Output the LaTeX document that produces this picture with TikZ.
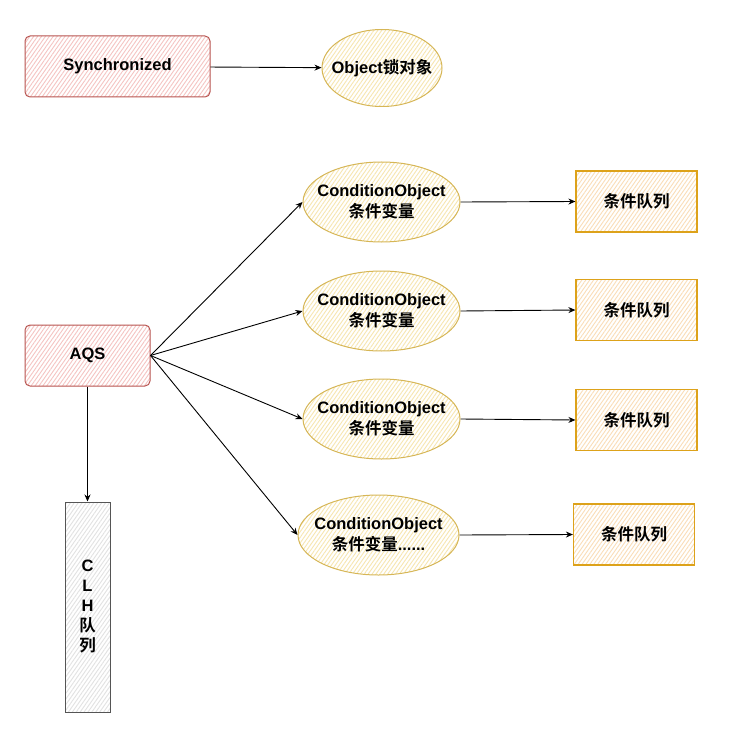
\documentclass[tikz,border=0pt]{standalone}
\usepackage{fontspec}
\setmainfont{Liberation Sans}
\newfontfamily\cjk{Noto Sans CJK SC}[BoldFont={Noto Sans CJK SC Bold}]
\usetikzlibrary{arrows.meta,shapes.geometric,patterns.meta}
\definecolor{redfill}{HTML}{F5C4C2}
\definecolor{redline}{HTML}{B85450}
\definecolor{yelfill}{HTML}{F7E6B0}
\definecolor{yelline}{HTML}{D6B656}
\definecolor{orfill}{HTML}{FADDB8}
\definecolor{orline}{HTML}{DDA21A}
\definecolor{grfill}{HTML}{E2E2E2}
\definecolor{grline}{HTML}{555555}
\newcommand{\zh}[1]{{\cjk\bfseries #1}}
\tikzset{
  hatch/.style={preaction={fill=white},pattern={Lines[angle=55,distance=3.2pt,line width=0.9pt]},pattern color=#1},
  txt/.style={font=\bfseries\fontsize{16.5}{21}\selectfont},
  redbox/.style={txt,draw=redline,line width=1pt,rounded corners=5pt,hatch=redfill,minimum width=185pt,minimum height=61pt},
  yelell/.style={txt,ellipse,draw=yelline,line width=1pt,hatch=yelfill,inner xsep=-12pt,inner ysep=0pt,align=center},
  qbox/.style={txt,draw=orline,line width=1.2pt,hatch=orfill,minimum width=121pt,minimum height=61pt},
  clhbox/.style={draw=grline,line width=1pt,hatch=grfill,minimum width=45pt,minimum height=210pt,align=center,font=\bfseries\fontsize{16.5}{20}\selectfont},
  arr/.style={-{Stealth[length=7pt,width=6pt]},line width=0.9pt,black}
}
\begin{document}
\begin{tikzpicture}[x=1pt,y=-1pt]
\useasboundingbox (0,0) rectangle (731,754);
\node[redbox] (sync) at (117.5,66.5) {Synchronized};
\node[yelell,minimum width=120pt,minimum height=77pt] (obj) at (382,68) {Object\zh{锁对象}};
\draw[arr] (sync) -- (obj);

\node[redbox,minimum width=125pt] (aqs) at (87.5,355.5) {AQS};
\node[clhbox] (clh) at (87.5,607) {C\\L\\H\\\zh{队}\\\zh{列}};
\draw[arr] (aqs.south) -- (clh.north);

\node[yelell,minimum width=157pt,minimum height=80pt] (c1) at (381.5,202) {ConditionObject\\\zh{条件变量}};
\node[yelell,minimum width=157pt,minimum height=80pt] (c2) at (381.5,311) {ConditionObject\\\zh{条件变量}};
\node[yelell,minimum width=157pt,minimum height=80pt] (c3) at (381.5,419) {ConditionObject\\\zh{条件变量}};
\node[yelell,minimum width=161pt,minimum height=80pt] (c4) at (378.5,535) {ConditionObject\\\zh{条件变量}......};

\node[qbox] (q1) at (636.5,201.5) {\zh{条件队列}};
\node[qbox] (q2) at (636.5,310) {\zh{条件队列}};
\node[qbox] (q3) at (636.5,420) {\zh{条件队列}};
\node[qbox] (q4) at (634,534.5) {\zh{条件队列}};

\foreach \i in {1,2,3,4}{
  \draw[arr] (aqs.east) -- (c\i.west);
  \draw[arr] (c\i.east) -- (q\i.west);
}
\end{tikzpicture}
\end{document}
